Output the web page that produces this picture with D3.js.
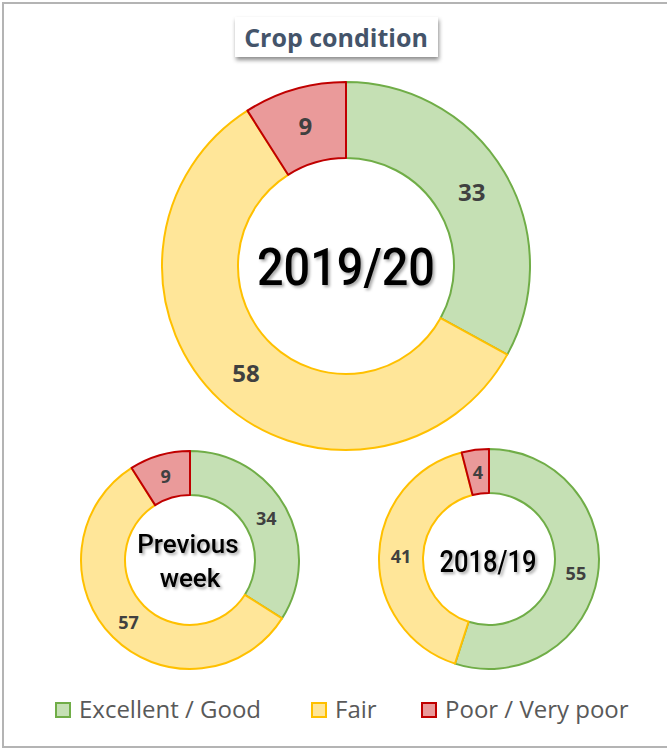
<!DOCTYPE html>
<html lang="en">
<head>
  <meta charset="UTF-8">
  <title>Crop condition</title>
  <script src="https://d3js.org/d3.v7.min.js"></script>
  <style>
    body {
      margin: 0;
      background: #fff;
    }
    #chart {
      display: block;
    }
    .slice-label {
      font-family: "Open Sans", sans-serif;
      font-weight: bold;
      fill: #404040;
      text-anchor: middle;
      dominant-baseline: central;
    }
    .center-label {
      font-family: Roboto, sans-serif;
      font-weight: 500;
      fill: #000;
      text-anchor: middle;
    }
    .legend-text {
      font-family: "Open Sans", sans-serif;
      font-size: 24px;
      fill: #595959;
    }
  </style>
</head>
<body>

<div id="chart"></div>

<script>
  // data
  const categories = ["Excellent / Good", "Fair", "Poor / Very poor"];
  const periods = ["2019/20", "Previous week", "2018/19"];
  const current = [33, 58, 9];
  const previousWeek = [34, 57, 9];
  const lastYear = [55, 41, 4];

  const width = 667, height = 750;

  const fills = d3.scaleOrdinal().domain(categories).range(["#c5e0b4", "#ffe699", "#ea9a9a"]);
  const strokes = d3.scaleOrdinal().domain(categories).range(["#70ad47", "#ffc000", "#c00000"]);

  const svg = d3.select("#chart")
    .append("svg")
    .attr("width", width)
    .attr("height", height);

  const defs = svg.append("defs");
  defs.append("filter")
      .attr("id", "boxShadow")
      .attr("x", "-20%").attr("y", "-30%")
      .attr("width", "140%").attr("height", "180%")
    .append("feDropShadow")
      .attr("dx", 1).attr("dy", 3)
      .attr("stdDeviation", 2)
      .attr("flood-color", "#000")
      .attr("flood-opacity", 0.45);
  defs.append("filter")
      .attr("id", "textShadow")
      .attr("x", "-20%").attr("y", "-30%")
      .attr("width", "140%").attr("height", "160%")
    .append("feDropShadow")
      .attr("dx", 2).attr("dy", 2)
      .attr("stdDeviation", 1.5)
      .attr("flood-color", "#000")
      .attr("flood-opacity", 0.35);

  // chart frame
  svg.append("rect")
     .attr("x", 3).attr("y", 3)
     .attr("width", 680).attr("height", 744)
     .attr("fill", "none")
     .attr("stroke", "#b4b4b4")
     .attr("stroke-width", 2);

  // title
  svg.append("rect")
     .attr("x", 235).attr("y", 17)
     .attr("width", 203).attr("height", 40)
     .attr("fill", "#fff")
     .attr("filter", "url(#boxShadow)");
  svg.append("text")
     .attr("x", 336).attr("y", 47)
     .attr("text-anchor", "middle")
     .style("font-family", "'Open Sans', sans-serif")
     .style("font-weight", "bold")
     .style("font-size", "25px")
     .attr("fill", "#44546a")
     .text("Crop condition");

  const pie = d3.pie().sort(null).value(d => d);

  function donut(values, cx, cy, outer, inner, fontSize) {
    const g = svg.append("g").attr("transform", `translate(${cx},${cy})`);
    const arcs = pie(values);
    const arc = d3.arc().innerRadius(inner).outerRadius(outer);
    const mid = d3.arc().innerRadius((inner + outer) / 2).outerRadius((inner + outer) / 2);

    g.selectAll("path")
     .data(arcs)
     .enter()
     .append("path")
     .attr("d", arc)
     .attr("fill", (d, i) => fills(categories[i]))
     .attr("stroke", (d, i) => strokes(categories[i]))
     .attr("stroke-width", 2)
     .attr("stroke-linejoin", "round");

    g.selectAll("text.slice-label")
     .data(arcs)
     .enter()
     .append("text")
     .attr("class", "slice-label")
     .attr("transform", d => `translate(${mid.centroid(d)})`)
     .style("font-size", fontSize + "px")
     .text(d => d.data);

    return g;
  }

  const big = donut(current, 346, 266, 184, 108, 24);
  const left = donut(previousWeek, 190, 560, 109, 65, 18);
  const right = donut(lastYear, 489, 559, 110, 66, 18);

  big.append("text")
     .attr("class", "center-label")
     .attr("y", 19)
     .attr("textLength", 178)
     .attr("lengthAdjust", "spacingAndGlyphs")
     .style("font-size", "52px")
     .attr("filter", "url(#textShadow)")
     .text(periods[0]);

  const words = periods[1].split(" ");
  left.selectAll("text.center-label")
      .data(words)
      .enter()
      .append("text")
      .attr("class", "center-label")
      .attr("x", (d, i) => i ? 0 : -2)
      .attr("y", (d, i) => i ? 27 : -7)
      .style("font-size", "26px")
      .attr("filter", "url(#textShadow)")
      .text(d => d);

  right.append("text")
       .attr("class", "center-label")
       .attr("x", -1)
       .attr("y", 13)
       .attr("textLength", 97)
       .attr("lengthAdjust", "spacingAndGlyphs")
       .style("font-size", "31px")
       .attr("filter", "url(#textShadow)")
       .text(periods[2]);

  // legend
  const legendX = [55, 311, 421];
  const legend = svg.append("g");
  const item = legend.selectAll("g")
    .data(categories)
    .enter()
    .append("g")
    .attr("transform", (d, i) => `translate(${legendX[i]},702)`);

  item.append("rect")
      .attr("x", 1).attr("y", 1)
      .attr("width", 14).attr("height", 14)
      .attr("fill", d => fills(d))
      .attr("stroke", d => strokes(d))
      .attr("stroke-width", 2);

  item.append("text")
      .attr("class", "legend-text")
      .attr("x", 24)
      .attr("y", 16)
      .text(d => d);
</script>
</body>
</html>
